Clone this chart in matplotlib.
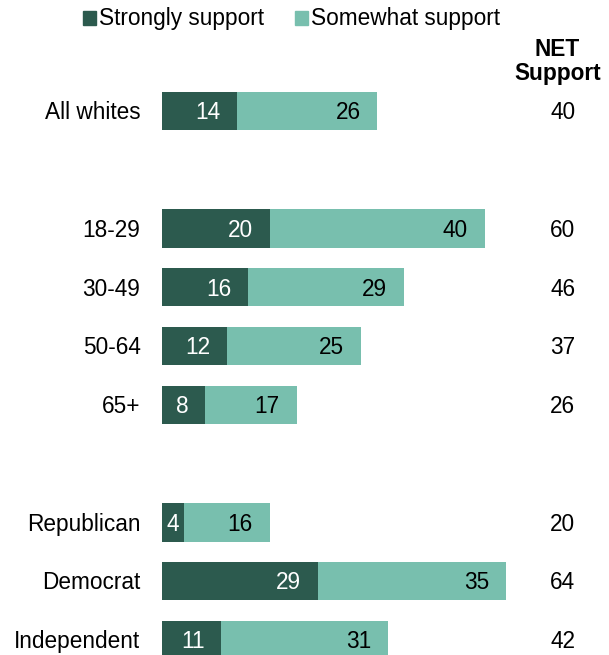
import matplotlib
matplotlib.use("Agg")
import matplotlib.pyplot as plt
from matplotlib.patches import Rectangle

categories = ["All whites", "18-29", "30-49", "50-64", "65+", "Republican", "Democrat", "Independent"]
positions = [0, 2, 3, 4, 5, 7, 8, 9]
strongly = [14, 20, 16, 12, 8, 4, 29, 11]
somewhat = [26, 40, 29, 25, 17, 16, 35, 31]
net = [40, 60, 46, 37, 26, 20, 64, 42]
legend_labels = ["Strongly support", "Somewhat support"]
net_header = "NET\nSupport"

DARK = "#2c5a4e"
LIGHT = "#78bfae"
FONT = "Liberation Sans"
FS = 16.3

W, H = 609, 655
fig = plt.figure(figsize=(W / 100, H / 100), dpi=100)

px_per_unit = 5.38
x0_px = 162
xmax = 72
ax_left = x0_px / W
ax_width = xmax * px_per_unit / W
row_px = 58.8
first_px = 111
top_px = 30
ytop = (top_px - first_px) / row_px
ybot = 9 + (H - 640) / row_px
ax = fig.add_axes([ax_left, 0, ax_width, (H - top_px) / H])
ax.set_xlim(0, xmax)
ax.set_ylim(ybot, ytop)
ax.axis("off")

bh = 0.65
ax.barh(positions, strongly, height=bh, color=DARK, linewidth=0)
ax.barh(positions, somewhat, left=strongly, height=bh, color=LIGHT, linewidth=0)

off = 3.1
dy = 0.03
for p, s, w, n, c in zip(positions, strongly, somewhat, net, categories):
    if s < 6:
        ax.text(s / 2, p + dy, str(s), ha="center", va="center", color="white", fontsize=FS, family=FONT)
    else:
        ax.text(s - off, p + dy, str(s), ha="right", va="center", color="white", fontsize=FS, family=FONT)
    ax.text(s + w - off, p + dy, str(w), ha="right", va="center", color="black", fontsize=FS, family=FONT)
    ax.text(-4.0, p + dy, c, ha="right", va="center", color="black", fontsize=FS, family=FONT)
    ax.text(74.5, p + dy, str(n), ha="center", va="center", color="black", fontsize=FS, family=FONT)

ax.text(73.5, (61.5 - first_px) / row_px, net_header, ha="center", va="center", fontsize=FS,
        fontweight="bold", family=FONT, linespacing=1.05, clip_on=False)

# legend
ly = 1 - 18 / H
sq = 13
fig.patches.append(Rectangle((83 / W, ly - sq / 2 / H), sq / W, sq / H, transform=fig.transFigure,
                             color=DARK, figure=fig))
fig.text(99 / W, ly, legend_labels[0], ha="left", va="center", fontsize=FS, family=FONT)
fig.patches.append(Rectangle((295 / W, ly - sq / 2 / H), sq / W, sq / H, transform=fig.transFigure,
                             color=LIGHT, figure=fig))
fig.text(311 / W, ly, legend_labels[1], ha="left", va="center", fontsize=FS, family=FONT)

fig.savefig("out.png", dpi=100, facecolor="white")
